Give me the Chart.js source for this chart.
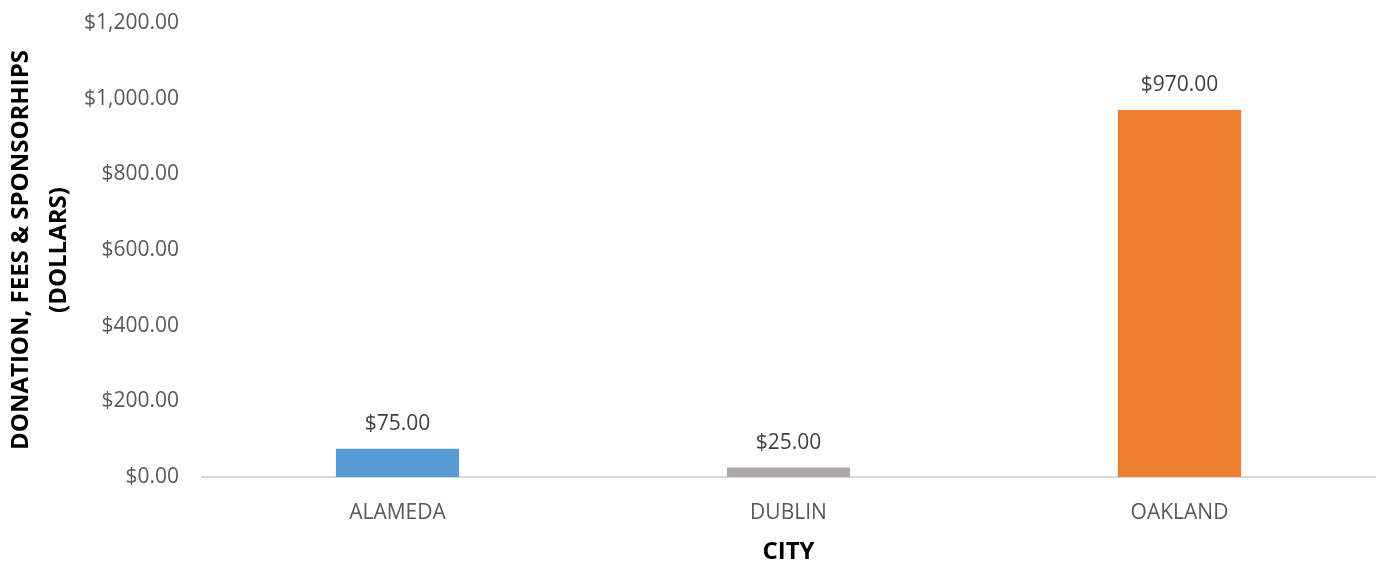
<!DOCTYPE html>
<html>
<head>
<meta charset="utf-8">
<script src="https://cdn.jsdelivr.net/npm/chart.js@4/dist/chart.umd.min.js"></script>
<style>
    html, body { margin: 0; padding: 0; background: #fff; }
    #wrap { width: 1384px; height: 567px; position: relative; }
</style>
</head>
<body>
<div id="wrap"><canvas id="cityChart"></canvas></div>
<script>
// ─── Data ───
const cities = ['ALAMEDA', 'DUBLIN', 'OAKLAND'];
const amounts = [75, 25, 970];
const barColors = ['#5B9BD5', '#AEAAAA', '#ED7D31'];
const yTicks = [0, 200, 400, 600, 800, 1000, 1200];

const money = v => '$' + v.toLocaleString('en-US', { minimumFractionDigits: 2, maximumFractionDigits: 2 });

// ─── value labels above bars ───
const barLabels = {
    id: 'barLabels',
    afterDatasetsDraw(chart) {
        const { ctx } = chart;
        const meta = chart.getDatasetMeta(0);
        ctx.save();
        ctx.font = '21px "Open Sans"';
        ctx.fillStyle = '#404040';
        ctx.textAlign = 'center';
        ctx.textBaseline = 'middle';
        meta.data.forEach((bar, i) => {
            ctx.fillText(money(amounts[i]), bar.x, bar.y - 25);
        });
        ctx.restore();
    }
};

const ctx = document.getElementById('cityChart').getContext('2d');
new Chart(ctx, {
    type: 'bar',
    data: {
        labels: cities,
        datasets: [{
            data: amounts,
            backgroundColor: barColors,
            borderWidth: 0,
            barPercentage: 0.315,
            categoryPercentage: 1
        }]
    },
    options: {
        responsive: true,
        maintainAspectRatio: false,
        animation: false,
        layout: { padding: { left: 0, right: 9, top: 23, bottom: 0 } },
        plugins: {
            legend: { display: false },
            tooltip: { enabled: false }
        },
        scales: {
            y: {
                min: 0,
                max: 1200,
                afterBuildTicks: scale => { scale.ticks = yTicks.map(v => ({ value: v })); },
                afterFit: scale => {
                    scale.width = 202;
                    scale.paddingTop = 0;
                    scale.paddingBottom = 0;
                },
                grid: { display: false, drawTicks: false },
                border: { display: false },
                ticks: {
                    padding: 23,
                    color: '#595959',
                    font: { family: 'Open Sans', size: 21 },
                    callback: v => money(v)
                },
                title: {
                    display: true,
                    text: ['DONATION, FEES & SPONSORHIPS', '(DOLLARS)'],
                    color: '#000',
                    font: { family: 'Open Sans', size: 24, weight: 'bold', lineHeight: 1.55 },
                    padding: { top: 3, bottom: 0 }
                }
            },
            x: {
                afterFit: scale => { scale.height = 90; },
                grid: { display: false, drawTicks: false },
                border: { display: true, color: '#D9D9D9', width: 2 },
                ticks: {
                    padding: 23,
                    color: '#595959',
                    font: { family: 'Open Sans', size: 21 }
                },
                title: {
                    display: true,
                    text: 'CITY',
                    color: '#000',
                    font: { family: 'Open Sans', size: 24, weight: 'bold', lineHeight: 1.2 },
                    padding: { top: 0, bottom: 0 }
                }
            }
        }
    },
    plugins: [barLabels]
});
</script>
</body>
</html>
